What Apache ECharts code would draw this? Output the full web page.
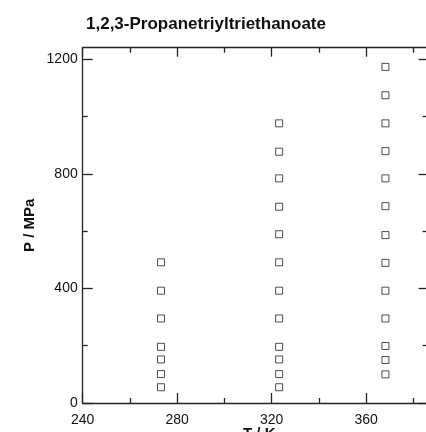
<!DOCTYPE html>
<html>
<head>
<meta charset="utf-8">
<script src="https://cdn.jsdelivr.net/npm/echarts@6/dist/echarts.min.js"></script>
<style>html,body{margin:0;padding:0;background:#fff;}#c{width:426px;height:432px;}</style>
</head>
<body>
<div id="c"></div>
<script>
// Data
const temperatures = [273.15, 323.15, 368.15];
const p273 = [55, 101, 152, 196, 295, 392, 491];
const p323 = [55, 101, 152, 196, 295, 392, 491, 589, 685, 784, 877, 976];
const p368 = [100, 150, 199, 295, 392, 489, 586, 687, 784, 879, 976, 1074, 1173];
const xMajor = [240, 280, 320, 360];
const xMinor = [260, 300, 340, 380];
const yMajor = [0, 400, 800, 1200];
const yMinor = [200, 600, 1000];

const pts = [];
[p273, p323, p368].forEach((arr, i) => arr.forEach(p => pts.push([temperatures[i], p])));

const X_MIN = 240, X_MAX = 386, Y_MIN = 0, Y_MAX = 1240;
const axisColor = '#222';
const font = 'Liberation Sans, Arial, Helvetica, sans-serif';
const plain = v => String(v);

function xa(pos, vals, len, showLine, showLabel, extra) {
  return Object.assign({
    type: 'value', position: pos, min: X_MIN, max: X_MAX,
    axisLine: { show: showLine, onZero: false, lineStyle: { color: axisColor, width: 1.3 } },
    axisTick: { show: true, inside: true, length: len, customValues: vals, lineStyle: { color: axisColor, width: 1.3 } },
    axisLabel: showLabel ? { show: true, customValues: vals, formatter: plain, color: '#111', fontSize: 14, fontFamily: font, margin: 10 } : { show: false },
    splitLine: { show: false }
  }, extra || {});
}
function ya(pos, vals, len, showLine, showLabel, extra) {
  return Object.assign({
    type: 'value', position: pos, min: Y_MIN, max: Y_MAX,
    axisLine: { show: showLine, onZero: false, lineStyle: { color: axisColor, width: 1.3 } },
    axisTick: { show: true, inside: true, length: len, customValues: vals, lineStyle: { color: axisColor, width: 1.3 } },
    axisLabel: showLabel ? { show: true, customValues: vals, formatter: plain, color: '#111', fontSize: 14, fontFamily: font, margin: 5 } : { show: false },
    splitLine: { show: false }
  }, extra || {});
}

const chart = echarts.init(document.getElementById('c'), null, { renderer: 'canvas' });
chart.setOption({
  animation: false,
  backgroundColor: '#fff',
  title: {
    text: '1,2,3-Propanetriyltriethanoate',
    left: 81, top: 11,
    textStyle: { fontSize: 17, fontWeight: 'bold', color: '#111', fontFamily: font }
  },
  grid: { left: 82.7, right: -1.6, top: 47.7, bottom: 29, containLabel: false, outerBoundsMode: 'none' },
  graphic: [{
    type: 'text', left: 243, top: 426,
    style: { text: 'T / K', fontSize: 15, fontWeight: 'bold', fill: '#111', fontFamily: font }
  }],
  xAxis: [
    xa('bottom', xMajor, 10, true, true),
    xa('bottom', xMinor, 5, false, false),
    xa('top', xMajor, 9, true, false),
    xa('top', xMinor, 5, false, false)
  ],
  yAxis: [
    ya('left', yMajor, 10, true, true, {
      name: 'P / MPa', nameLocation: 'middle', nameGap: 45, nameRotate: 90, nameMoveOverlap: false,
      nameTextStyle: { fontSize: 15, fontWeight: 'bold', color: '#111', fontFamily: font }
    }),
    ya('left', yMinor, 5, false, false),
    ya('right', yMajor, 9, true, false),
    ya('right', yMinor, 5, false, false)
  ],
  series: [{
    type: 'scatter',
    xAxisIndex: 0, yAxisIndex: 0,
    data: pts,
    symbol: 'rect',
    symbolSize: 7,
    itemStyle: { color: '#fff', borderColor: '#222', borderWidth: 1 }
  }]
});
</script>
</body>
</html>
